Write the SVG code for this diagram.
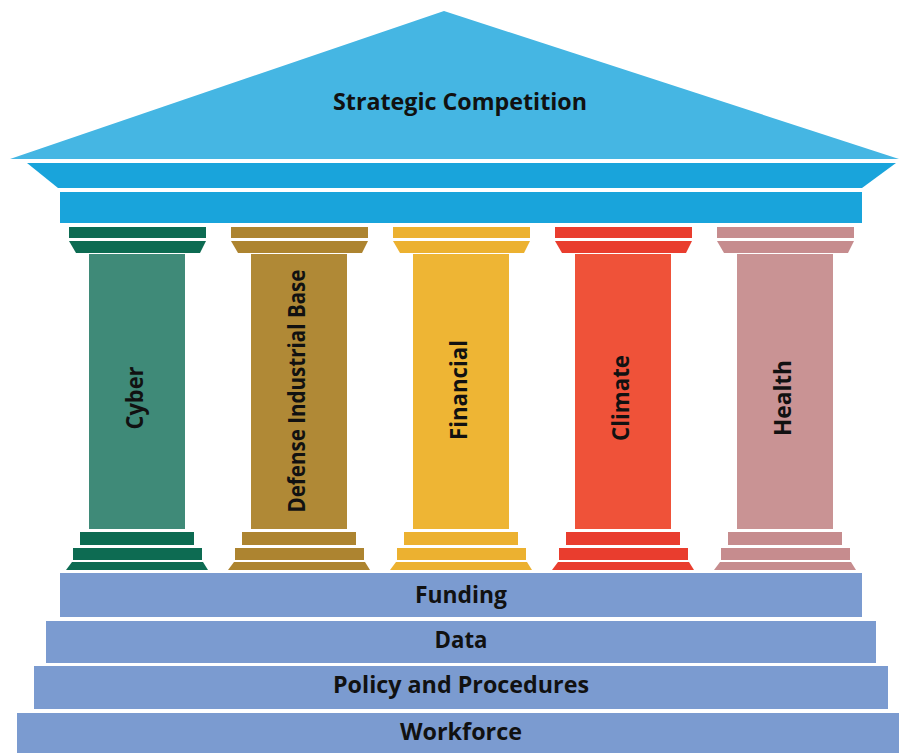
<svg xmlns="http://www.w3.org/2000/svg" width="899" height="753" viewBox="0 0 899 753">
<style>
.lbl{font-family:"Open Sans","Liberation Sans",sans-serif;font-weight:700;font-size:23px;fill:#111;text-anchor:middle}
.step{fill:#7B9BD0}
</style>
<defs>
<g id="col">
<rect class="c" x="0" y="227" width="137" height="11"/>
<polygon class="c" points="0,241 137,241 131,253 7,253"/>
<rect class="s" x="20" y="254" width="96" height="275"/>
<rect class="c" x="11" y="532" width="114" height="13"/>
<rect class="c" x="4" y="548" width="129" height="12"/>
<polygon class="c" points="3,562 134,562 139,570 -3,570"/>
</g>
</defs>
<rect width="899" height="753" fill="#fff"/>
<g id="roof">
<polygon points="10,159 444,11 899,159" fill="#45B6E3"/>
<polygon points="27,163 896,163 862,188 58,188" fill="#19A4DB"/>
<rect x="60" y="192" width="802" height="31" fill="#19A4DB"/>
<text class="lbl" x="460" y="110" textLength="254" lengthAdjust="spacingAndGlyphs">Strategic Competition</text>
</g>
<g id="cyber">
<g transform="translate(69,0)"><use href="#col" fill="#0D6B52"/><rect x="20" y="254" width="96" height="275" fill="#3F8A78"/></g>
<text class="lbl" transform="translate(143,398) rotate(-90)" textLength="63" lengthAdjust="spacingAndGlyphs">Cyber</text>
</g>
<g id="dib">
<g transform="translate(231,0)"><use href="#col" fill="#AD8430"/><rect x="20" y="254" width="96" height="275" fill="#B08936"/></g>
<text class="lbl" transform="translate(305,391) rotate(-90)" textLength="243" lengthAdjust="spacingAndGlyphs">Defense Industrial Base</text>
</g>
<g id="financial">
<g transform="translate(393,0)"><use href="#col" fill="#ECB130"/><rect x="20" y="254" width="96" height="275" fill="#EEB534"/></g>
<text class="lbl" transform="translate(467,390) rotate(-90)" textLength="100" lengthAdjust="spacingAndGlyphs">Financial</text>
</g>
<g id="climate">
<g transform="translate(555,0)"><use href="#col" fill="#E93D2E"/><rect x="20" y="254" width="96" height="275" fill="#EF5239"/></g>
<text class="lbl" transform="translate(629,398) rotate(-90)" textLength="86" lengthAdjust="spacingAndGlyphs">Climate</text>
</g>
<g id="health">
<g transform="translate(717,0)"><use href="#col" fill="#C68C8E"/><rect x="20" y="254" width="96" height="275" fill="#C99394"/></g>
<text class="lbl" transform="translate(791,398) rotate(-90)" textLength="76" lengthAdjust="spacingAndGlyphs">Health</text>
</g>
<g id="funding">
<rect class="step" x="60" y="573" width="802" height="44"/>
<text class="lbl" x="461" y="603" textLength="92" lengthAdjust="spacingAndGlyphs">Funding</text>
</g>
<g id="data">
<rect class="step" x="46" y="621" width="830" height="42"/>
<text class="lbl" x="461" y="648" textLength="53" lengthAdjust="spacingAndGlyphs">Data</text>
</g>
<g id="policy">
<rect class="step" x="34" y="666" width="854" height="43"/>
<text class="lbl" x="461" y="693" textLength="256" lengthAdjust="spacingAndGlyphs">Policy and Procedures</text>
</g>
<g id="workforce">
<rect class="step" x="17" y="713" width="882" height="40"/>
<text class="lbl" x="461" y="740" textLength="122" lengthAdjust="spacingAndGlyphs">Workforce</text>
</g>
<g id="connectors"/>
</svg>
